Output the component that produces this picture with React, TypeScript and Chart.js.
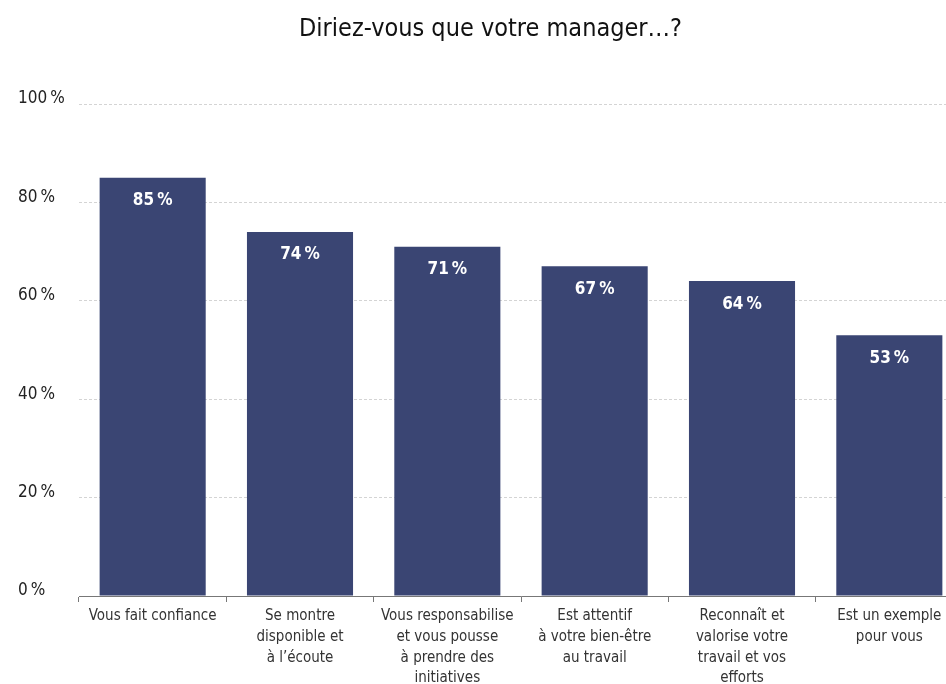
import React, { useEffect, useRef } from "react";
import { Chart, registerables } from "chart.js";

Chart.register(...registerables);

const title = "Diriez-vous que votre manager…?";
const categories: (string | string[])[] = [
  "Vous fait confiance",
  ["Se montre", "disponible et", "à l’écoute"],
  ["Vous responsabilise", "et vous pousse", "à prendre des", "initiatives"],
  ["Est attentif", "à votre bien-être", "au travail"],
  ["Reconnaît et", "valorise votre", "travail et vos", "efforts"],
  ["Est un exemple", "pour vous"],
];
const values = [85, 74, 71, 67, 64, 53];
const yTicks = [0, 20, 40, 60, 80, 100];

const FONT = '"DejaVu Sans Condensed", "DejaVu Sans", sans-serif';
const BAR = "#3a4573";
const NSP = "\u202F";

const valueLabels = {
  id: "valueLabels",
  afterDatasetsDraw(chart: any) {
    const ctx = chart.ctx;
    const meta = chart.getDatasetMeta(0);
    ctx.save();
    ctx.fillStyle = "#ffffff";
    ctx.font = `bold 17px ${FONT}`;
    ctx.textAlign = "center";
    ctx.textBaseline = "middle";
    meta.data.forEach((bar: any, i: number) => {
      ctx.fillText(`${values[i]}${NSP}%`, bar.x, bar.y + 23);
    });
    ctx.restore();
  },
};

export default function App() {
  const ref = useRef<HTMLCanvasElement>(null);
  useEffect(() => {
    if (!ref.current) return;
    const chart = new Chart(ref.current, {
      type: "bar",
      data: {
        labels: categories,
        datasets: [
          {
            data: values,
            backgroundColor: BAR,
            borderWidth: 0,
            barPercentage: 0.72,
            categoryPercentage: 1,
          },
        ],
      },
      options: {
        responsive: false,
        animation: false,
        devicePixelRatio: 1,
        layout: { padding: { left: 18, right: 19, top: 0, bottom: 0 } },
        plugins: {
          legend: { display: false },
          tooltip: { enabled: false },
          title: {
            display: true,
            text: title,
            color: "#111",
            font: { family: FONT, size: 25, weight: "normal", lineHeight: 1.2 },
            padding: { top: 14, bottom: 60 },
          },
        },
        scales: {
          x: {
            type: "category",
            offset: true,
            grid: {
              display: true,
              drawOnChartArea: false,
              drawTicks: true,
              tickLength: 6,
              offset: true,
              color: "#777",
            },
            border: { display: true, color: "#777", width: 1 },
            ticks: {
              color: "#333",
              font: { family: FONT, size: 15, lineHeight: 1.38 },
              maxRotation: 0,
              minRotation: 0,
              autoSkip: false,
              padding: 4,
            },
            afterFit(scale: any) {
              scale.height = 88;
            },
          },
          y: {
            min: 0,
            max: 100,
            afterBuildTicks(scale: any) {
              scale.ticks = yTicks.map((v) => ({ value: v }));
            },
            grid: { color: "#d4d4d4", drawTicks: false, lineWidth: 1 },
            border: { display: false, dash: [3, 2] },
            ticks: {
              color: "#222",
              font: { family: FONT, size: 17 },
              crossAlign: "far",
              labelOffset: -5,
              padding: 10,
              callback: (v: any) => `${v}${NSP}%`,
            },
            afterFit(scale: any) {
              scale.width = 61;
            },
          },
        },
      },
      plugins: [valueLabels],
    });
    return () => chart.destroy();
  }, []);
  return (
    <div style={{ position: "fixed", left: 0, top: 0, width: 946, height: 684, overflow: "hidden", background: "#fff" }}>
      <canvas ref={ref} width={982} height={684} style={{ display: "block" }} />
    </div>
  );
}
